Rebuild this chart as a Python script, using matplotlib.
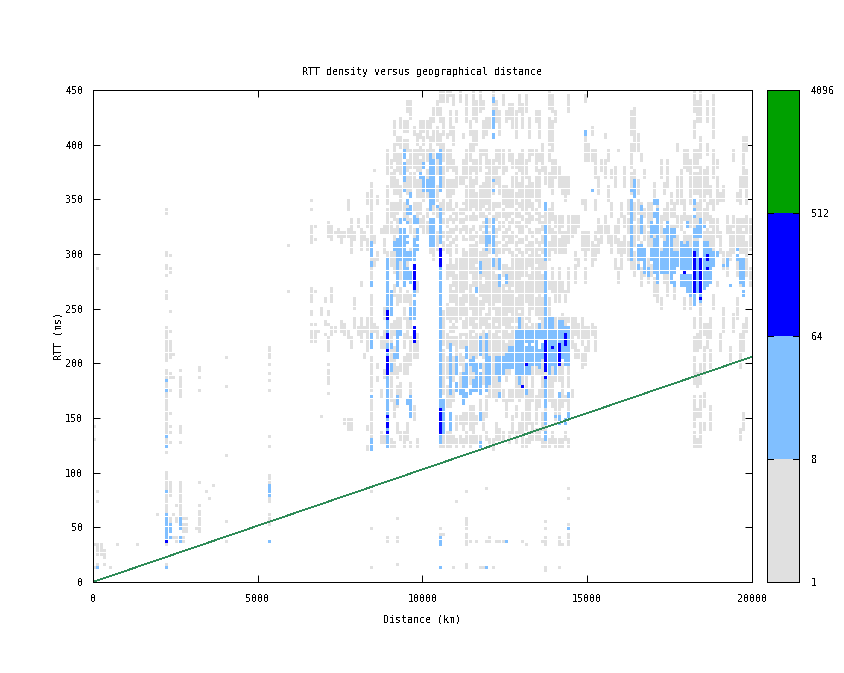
import matplotlib
matplotlib.use("Agg")
import matplotlib.pyplot as plt
from matplotlib.collections import PolyCollection
from matplotlib.patches import Rectangle

# Density bands. Keys: distance bin (x100 km). Values: RTT ranges in ms.
gray_cells = {
0:[(14,14),(35,35),(130,130),(142,142)],1:[(14,17),(24,30),(35,35),(74,74),(82,82),(286,286)],2:[(24,30),(33,35)],3:[(15,15),(22,27)],5:[(14,14)],7:[(34,34)],13:[(34,34)],
19:[(61,61)],
22:[(15,15),(35,35),(61,99),(118,118),(124,150),(152,194),(201,233),(258,264),(279,281),(285,290),(297,302),(336,339)],
23:[(47,57),(78,92),(128,128),(137,137),(142,142),(154,154),(174,174),(188,191),(206,221),(228,228),(247,247),(284,286),(297,297)],
24:[(40,40),(60,62),(188,188),(208,208)],25:[(38,41),(70,70),(55,58)],26:[(36,41),(58,92),(128,128),(137,142),(168,177),(180,188),(194,194)],27:[(38,41),(47,52),(58,58)],28:[(47,52),(58,58)],
31:[(49,49)],32:[(45,52),(55,64),(70,70),(91,91),(175,175),(187,187),(192,197)],34:[(82,82)],35:[(76,76)],36:[(88,88)],
40:[(37,37),(55,55),(116,116),(179,179),(205,205)],
53:[(52,60),(72,78),(90,96),(124,124),(133,133),(175,175),(185,185),(191,191),(200,200),(204,215)],
59:[(265,265),(307,307)],
66:[(221,228),(235,235),(243,247),(255,268),(310,325),(340,340),(349,349)],67:[(221,228),(235,235),(265,265),(313,313),(325,325)],68:[(228,228)],69:[(151,151),(243,249)],
70:[(226,226),(235,238),(255,258)],71:[(172,172),(180,194),(200,200),(211,224),(235,235),(243,247),(316,325),(328,328)],72:[(226,232),(255,268),(313,325)],73:[(228,232),(320,320)],74:[(316,322)],
75:[(230,238),(310,318)],76:[(225,235),(316,320),(145,148)],77:[(140,148),(222,230),(316,322),(340,350)],78:[(140,148),(215,222),(300,316),(320,330)],79:[(232,240),(250,258),(312,320)],80:[(225,232),(325,332)],
81:[(220,240),(270,273),(305,322)],82:[(205,208),(228,232),(313,320)],83:[(120,125),(138,142),(210,240),(305,312),(325,335),(345,355)],
84:[(124,135),(140,165),(175,205),(230,262),(275,290),(294,300),(312,330),(334,345),(350,365)],
85:[(228,235),(288,294),(310,316),(376,376)],86:[(195,200),(185,188),(222,232),(295,300),(345,352)],87:[(128,135),(170,175),(215,222),(318,322)],
88:[(128,132),(188,194),(215,230),(240,250),(300,312),(318,325)],
89:[(124,230),(240,300),(320,340),(345,362),(372,395)],90:[(125,130),(165,190),(200,235),(290,300),(320,328),(335,345),(360,372),(378,385)],
91:[(125,128),(150,165),(190,215),(226,238),(262,270),(282,300),(310,322),(332,345),(355,375),(385,400),(410,420)],92:[(135,145),(160,178),(186,195),(205,225),(232,240),(254,262),(276,290),(320,332),(338,345),(355,368),(375,392),(400,405)],
93:[(130,135),(170,182),(192,200),(225,240),(255,268),(278,296),(340,346),(350,362),(372,392),(398,405),(415,425)],94:[(125,135),(190,205),(214,225),(240,250),(256,262),(335,345),(360,366),(396,404),(412,420)],
95:[(130,145),(190,208),(222,240),(255,265),(288,300),(332,336),(342,346),(356,370),(376,385),(395,402),(412,422),(430,440)],96:[(125,128),(150,162),(172,180),(200,222),(232,240),(252,262),(300,305),(318,332),(356,372),(380,395),(425,438)],
97:[(148,160),(205,225),(316,322),(340,345),(360,372),(378,395),(410,416)],98:[(125,130),(205,225),(265,275),(332,345),(352,368),(376,395),(400,410)],
99:[(325,332),(338,345),(352,366),(372,386),(392,398),(405,420)],100:[(320,335),(350,355),(360,370),(384,395),(400,405),(412,420)],101:[(320,328),(334,340),(352,356),(370,376),(384,395),(405,420)],102:[(300,307),(345,345),(392,405),(415,425)],
103:[(295,307),(336,345),(352,356),(373,395),(402,412),(420,432)],104:[(305,320),(335,342),(348,362),(372,386),(400,415),(428,440)],105:[(125,135),(240,290),(342,345),(396,408),(420,432),(440,450)],
106:[(42,42),(125,132),(140,165),(172,210),(218,240),(243,248),(305,320),(328,350),(360,378),(386,400),(410,425),(438,450)],107:[(125,135),(160,178),(186,205),(214,230),(240,252),(276,290),(302,318),(324,332),(338,345),(352,368),(376,395),(405,410),(440,450)],
108:[(125,135),(160,170),(202,222),(230,240),(244,250),(255,272),(280,300),(305,322),(330,345),(350,366),(380,395),(410,430),(445,450)],109:[(128,132),(165,176),(184,205),(216,235),(242,250),(255,265),(270,275),(278,290),(310,322),(328,340),(355,368),(375,385),(400,415),(435,445)],
110:[(125,130),(140,150),(205,222),(232,240),(245,255),(260,280),(285,295),(300,315),(322,345),(360,380),(420,430)],111:[(128,132),(145,150),(175,190),(200,230),(240,258),(265,295),(320,340),(365,370),(440,450)],
112:[(125,130),(140,155),(192,205),(215,225),(232,238),(245,258),(262,285),(290,305),(312,330),(336,345),(365,385),(405,410)],113:[(12,15),(35,44),(49,52),(55,58),(83,83),(128,135),(145,155),(216,240),(242,250),(255,262),(268,285),(288,300),(312,325),(332,345),(350,360),(370,395),(420,445)],
114:[(38,38),(125,132),(140,160),(180,196),(205,240),(250,272),(282,300),(305,322),(330,345),(346,352),(355,362),(365,378),(385,400),(410,420)],115:[(128,135),(140,160),(186,192),(206,240),(245,262),(270,300),(305,325),(332,345),(350,368),(375,385),(395,412),(425,450)],
116:[(37,37),(128,132),(145,150),(206,225),(232,240),(242,258),(268,285),(292,300),(305,320),(330,345),(350,356),(365,385),(400,412),(420,440)],117:[(13,13),(125,132),(150,165),(226,240),(245,255),(262,280),(285,290),(294,300),(310,325),(335,345),(350,362),(375,395),(430,450)],
118:[(14,14),(140,155),(180,200),(206,240),(250,272),(280,298),(300,318),(326,345),(350,365),(390,395),(405,422),(432,440)],119:[(38,38),(86,86),(130,135),(150,170),(226,245),(255,300),(332,345),(350,372),(380,395),(410,425)],
120:[(37,40),(125,130),(170,180),(206,240),(245,255),(260,275),(278,296),(300,308),(318,345),(350,360),(365,385),(415,425)],121:[(14,14),(120,130),(170,240),(250,288),(332,345),(355,385),(432,438),(445,450)],
122:[(38,38),(130,145),(165,188),(206,240),(242,250),(255,280),(286,300),(305,325),(332,345),(365,378),(385,395),(420,440)],123:[(38,38),(130,140),(175,184),(206,240),(244,250),(255,270),(300,310),(322,345),(355,370),(378,395),(410,430)],
124:[(38,38),(130,135),(165,175),(206,240),(245,255),(260,272),(280,290),(300,318),(324,340),(345,360),(372,395),(435,445)],125:[(150,165),(185,194),(210,240),(245,265),(270,274),(282,290),(305,322),(330,345),(350,362),(375,380),(420,430)],
126:[(128,135),(165,175),(190,194),(216,240),(248,270),(275,285),(300,315),(322,345),(350,358),(385,395),(425,435)],127:[(135,150),(165,175),(216,240),(245,252),(255,265),(270,300),(310,320),(328,345),(350,370),(380,390),(415,435)],
128:[(128,135),(150,160),(170,188),(230,240),(245,260),(265,272),(275,298),(305,315),(324,340),(345,355),(360,372),(378,385),(405,430)],129:[(135,145),(165,180),(240,245),(250,285),(290,296),(300,312),(320,345),(352,365),(375,390),(430,445)],
130:[(37,37),(125,135),(140,155),(170,188),(230,240),(245,255),(260,275),(280,300),(310,325),(332,345),(350,362),(365,395),(415,435)],131:[(35,35),(125,130),(140,170),(176,188),(230,240),(255,275),(280,295),(300,316),(324,345),(348,360),(370,385),(430,445)],
132:[(128,135),(145,175),(230,240),(245,255),(260,280),(290,310),(318,345),(350,370),(385,395),(405,425)],133:[(130,145),(165,195),(230,235),(250,285),(290,300),(305,320),(330,345),(352,365),(390,395)],
134:[(130,140),(145,170),(190,196),(230,235),(245,258),(265,285),(292,305),(310,322),(330,340),(350,370),(375,395),(420,430)],135:[(130,140),(160,175),(190,194),(235,240),(245,285),(290,310),(318,345),(350,375),(385,390),(405,430)],
136:[(38,38),(125,130),(140,155),(170,202),(232,240),(245,260),(265,280),(285,296),(300,315),(322,335),(375,400)],137:[(10,13),(35,41),(49,49),(55,55),(125,128),(136,144),(156,160),(185,194),(240,244),(282,294),(326,340),(365,380)],
138:[(125,130),(165,188),(240,260),(268,275),(295,310),(318,340),(360,372),(385,395),(400,425),(432,450)],139:[(128,135),(160,196),(265,285),(305,322),(330,345),(355,385),(395,420),(430,445)],
140:[(125,130),(145,165),(185,188),(232,240),(255,275),(300,318),(326,335),(370,385),(420,430)],141:[(12,14),(35,41),(125,130),(155,168),(185,198),(238,240),(255,285),(300,312),(320,335),(360,380)],
142:[(35,35),(125,130),(160,200),(238,245),(265,275),(300,318),(324,335),(355,370)],143:[(130,135),(165,170),(232,240),(255,265),(300,320),(350,370)],
144:[(35,42),(49,52),(77,77),(86,86),(125,130),(156,168),(178,198),(238,240),(265,285),(310,335),(355,370),(430,445)],145:[(170,175),(215,240),(315,335)],
146:[(205,218),(226,240),(275,290),(296,300),(320,335)],147:[(205,212),(222,235),(290,295),(325,335)],148:[(195,208),(218,240),(305,320),(345,350)],149:[(200,215),(224,232),(275,286),(294,320),(340,350),(385,405),(440,445)],
150:[(210,232),(305,320),(385,400)],151:[(225,235),(290,310),(385,395),(410,415)],152:[(210,232),(295,308),(314,320),(340,350),(370,395)],153:[(300,312),(320,330),(355,370)],
154:[(310,325),(375,385)],155:[(320,335),(370,385),(405,410)],156:[(310,325),(350,360),(385,395)],157:[(300,315),(335,345),(370,375)],
158:[(285,295),(310,325),(360,380)],159:[(275,285),(300,312),(318,330),(395,395)],160:[(285,310),(335,345)],161:[(300,316),(324,335),(360,380)],162:[(295,310),(320,330),(338,350)],
163:[(285,295),(303,320),(330,345),(355,372),(380,400),(410,430)],164:[(280,300),(308,325),(332,345),(365,375),(395,432)],165:[(285,300),(312,330),(338,350),(355,368),(395,410)],166:[(270,285),(295,310),(322,345),(385,392)],167:[(280,300),(312,325),(335,340),(370,375)],
168:[(275,295),(306,320),(325,330),(335,345)],169:[(280,290),(298,315),(322,335),(330,345)],170:[(262,278),(290,300),(310,325),(350,365)],171:[(255,275),(300,325),(335,350)],172:[(250,260),(285,305),(315,335),(370,385)],173:[(275,285),(296,315),(330,340),(355,365)],
174:[(262,280),(300,320),(326,345),(360,385)],175:[(280,295),(312,325),(334,340),(345,355)],176:[(260,270),(285,295),(305,325),(335,345)],177:[(300,315),(325,335),(345,370),(395,400)],178:[(295,310),(322,335),(345,375)],
179:[(250,260),(300,320),(330,350),(380,395)],180:[(300,315),(325,335),(375,395)],181:[(250,260),(295,315),(325,335),(345,385)],182:[(125,135),(142,170),(180,205),(212,222),(232,240),(255,275),(300,330),(340,345),(355,372),(380,395),(405,420),(430,450)],
183:[(125,130),(150,158),(178,190),(210,225),(300,318),(326,345),(355,372),(380,395),(420,440)],184:[(125,145),(152,170),(182,200),(215,240),(245,258),(320,345),(350,380),(388,405),(420,450)],185:[(140,146),(160,172),(190,215),(225,235),(295,318),(326,340),(350,375)],186:[(215,235),(300,322),(332,345),(355,380),(390,400),(420,440)],
187:[(140,160),(195,212),(222,240),(300,318),(326,335),(345,360)],188:[(250,262),(300,330),(340,350),(370,395),(405,445)],189:[(270,275),(315,330),(345,370),(380,385)],
190:[(210,225),(300,320),(350,355)],191:[(230,250),(285,300),(350,360)],192:[(280,300),(320,335)],193:[(200,215),(295,325)],194:[(230,245),(300,318),(326,335),(385,395)],
195:[(240,258),(280,295),(306,330),(350,355)],196:[(130,140),(195,225),(270,285),(300,330),(345,370)],197:[(140,155),(210,235),(300,318),(326,330),(360,405)],198:[(230,240),(280,310),(318,335),(345,375),(395,405)],199:[(270,285),(305,330)],
84.5:[(14,14),(49,49),(83,83)],89.5:[(37,41)],92.5:[(15,15),(38,40),(58,58)],105.5:[(44,44),(49,49)],109.5:[(13,13)],110.5:[(74,74)],
}
# Empty cells inside the dense gray zone, RTT in ms by distance bin
gray_gaps = {
106:[312,333],107:[310,336,228],108:[312,338,234],109:[316,335,226],110:[309,327,340,236],111:[325,333,210,228],112:[318,342,222],113:[316,338,229],114:[311,336,232],
115:[309,320,340,226],116:[313,337,237],117:[318,330,229],118:[306,330,340,233],119:[336,342,230],120:[322,333,238],121:[336,228],122:[312,326,341,235],123:[307,330,340,227],
124:[310,331,233],125:[314,339,220],126:[308,330,340,229],127:[333,341,235],128:[312,332,236],129:[306,330,340],130:[315,338],131:[310,333,237],132:[300,326,340,234],133:[313,338],
134:[315,334],135:[300,325,340,238],136:[306,330],
}
light_cells = {
1:[(13,14)],22:[(13,13),(40,60),(82,82),(124,124),(133,133),(175,175),(185,185)],23:[(39,40),(47,53)],26:[(36,41),(48,57)],53:[(37,37),(80,87)],
84:[(122,131),(170,170),(213,218),(220,227),(272,275),(290,293),(299,300),(303,311)],
89:[(125,136),(138,150),(155,166),(168,173),(175,197),(200,218),(222,230),(232,238),(244,268),(272,280),(281,296)],
90:[(192,198),(215,218),(244,247),(250,264)],91:[(205,208),(303,310)],92:[(162,168),(205,228),(272,278),(281,293),(295,302),(303,313)],
93:[(225,228),(295,302),(303,314),(316,323),(327,330)],94:[(272,278),(281,293),(295,302),(303,313),(316,323),(331,331),(358,358),(366,375),(378,381),(389,389),(392,395)],
95:[(162,165),(276,279),(284,287),(295,302),(311,311),(317,317),(328,328),(337,340),(345,348)],96:[(150,170),(240,250),(275,282),(295,302),(336,343),(351,355)],
97:[(220,232),(240,250),(252,256),(261,267),(295,302),(303,314),(327,333)],98:[(303,308),(313,313),(317,323),(327,330)],
99:[(370,372)],100:[(357,364),(366,371),(380,383)],101:[(357,368)],
102:[(308,314),(316,330),(339,339),(343,343),(346,355),(357,365),(366,377),(377,386),(387,392)],103:[(308,314),(316,330),(346,355),(357,365),(366,377),(377,386)],104:[(343,343),(387,390)],
105:[(35,41),(14,14),(127,134),(135,145),(148,152),(160,230),(232,240),(241,252),(253,259),(262,288),(311,334),(336,339),(358,380),(383,395)],106:[(135,150),(151,153),(158,165)],
108:[(140,155),(172,200),(202,218)],110:[(175,180),(190,200),(202,204)],111:[(172,176)],112:[(163,170),(172,177),(178,190)],113:[(190,200),(205,215),(178,190),(168,172)],
114:[(198,202),(172,175)],115:[(175,185),(193,204)],116:[(175,200),(188,190),(266,268)],117:[(172,178),(124,128),(147,154),(178,190),(196,200),(208,222),(283,293)],
119:[(13,13),(175,200),(202,218),(220,225),(303,330)],120:[(182,193),(194,204),(310,316)],121:[(290,295),(300,312),(316,330),(358,358),(368,368),(406,408),(416,430),(440,441)],
122:[(190,204)],123:[(185,204),(170,172),(272,280),(285,295)],124:[(190,204)],125:[(195,204),(205,208),(275,280),(36,37)],
126:[(195,205),(208,215)],127:[(195,215)],128:[(190,205),(208,218),(220,229)],129:[(182,210),(208,218),(220,240)],
130:[(190,218),(220,230)],131:[(172,175),(190,215),(220,230)],132:[(190,220),(220,230)],133:[(198,215),(220,230)],134:[(198,218),(220,230)],135:[(195,210),(222,235)],136:[(205,218),(222,230)],
137:[(130,135),(145,155),(160,185),(195,225),(228,240),(245,272),(275,282),(295,305),(306,325),(340,345)],138:[(190,240)],139:[(198,240)],140:[(190,230),(150,152)],141:[(150,152),(170,172),(200,238),(146,148)],142:[(205,238)],143:[(200,232),(145,148)],144:[(48,50),(200,232),(170,172),(150,155)],
149:[(409,411)],151:[(358,358)],
163:[(295,303),(305,311),(314,348),(358,358)],164:[(352,358),(362,366)],165:[(295,303),(305,307),(285,290)],166:[(295,303),(305,308),(318,334),(340,342)],
167:[(283,303)],168:[(280,285)],169:[(295,299),(302,305),(317,328)],170:[(283,303),(305,313),(318,324),(333,336),(347,350)],171:[(275,281),(283,303),(305,313),(316,333),(337,340),(345,348)],
172:[(283,290),(292,300)],173:[(283,303),(305,311),(318,322)],174:[(283,303),(305,323),(325,327)],175:[(275,281),(283,303),(305,322)],176:[(283,290),(292,302),(272,275),(317,322)],
177:[(290,302)],178:[(270,280),(286,303),(305,311)],179:[(270,280),(286,303),(305,308)],180:[(265,280),(285,303),(305,311),(326,328)],
181:[(262,280),(285,303)],182:[(252,264),(305,311),(315,323),(339,341),(333,335),(345,348)],183:[(265,283),(285,303),(305,311),(317,323),(326,326)],
184:[(255,262),(317,324),(326,332)],185:[(268,272),(273,281),(283,303),(305,311),(324,326)],186:[(270,281),(283,303),(305,311)],187:[(283,303),(275,280)],188:[(295,302),(290,293)],189:[(299,302)],
191:[(288,288)],192:[(292,295),(288,290)],193:[(272,272)],195:[(296,299),(303,305)],196:[(273,281),(283,296)],197:[(263,265),(270,281),(283,296)],
}
blue_cells = {
22:[(37,37)],89:[(135,137),(141,144),(152,152),(190,192),(196,197),(200,205),(212,212),(222,225),(227,227),(240,247)],
97:[(220,233),(269,290)],
105:[(135,141),(146,153),(157,157),(290,293),(293,302),(303,305)],130:[(179,179)],131:[(200,200)],
137:[(187,187),(192,197),(200,209),(208,216),(220,220)],139:[(215,215)],141:[(200,202),(205,207),(208,216)],143:[(216,218),(220,225)],
179:[(282,282)],182:[(264,272),(273,281),(282,302)],184:[(259,259),(264,272),(273,281),(282,296)],186:[(285,285),(295,299)],
}
level_values = [3, 20, 100]            # counts representing each band
band_edges = [1, 8, 64, 512, 4096]
band_colors = ["#e0e0e0", "#80bfff", "#0000ff", "#00a000"]
line_km = [0, 20000]
line_rtt = [0, 206]
x_ticks = [0, 5000, 10000, 15000, 20000]
y_ticks = [0, 50, 100, 150, 200, 250, 300, 350, 400, 450]

plt.rcParams.update({"font.family": "DejaVu Sans Mono", "font.size": 7.2, "text.antialiased": False,
                     "axes.linewidth": 0.72, "axes.titlesize": 7.2})
W, H = 845, 673
fig = plt.figure(figsize=(W/100, H/100), dpi=100)
L, R, T, B = 93, 752, 90, 582
ax = fig.add_axes([L/W, 1-B/H, (R-L)/W, (B-T)/H])
BINX, BINY = 100, 3
grid = {}
for layer, val in zip((gray_cells, light_cells, blue_cells), level_values):
    for col, runs in layer.items():
        for lo, hi in runs:
            for r in range(int(lo//BINY), int(hi//BINY)+1):
                grid[(int(col), r)] = val
for col, rtts in gray_gaps.items():
    for v in rtts:
        if grid.get((col, int(v//BINY))) == level_values[0]:
            del grid[(col, int(v//BINY))]
fx, fy = 0.91, 0.91
for val, color in zip(level_values, band_colors):
    cells = [k for k, v in grid.items() if v == val]
    polys = [[(c*BINX, r*BINY), ((c+fx)*BINX, r*BINY), ((c+fx)*BINX, (r+fy)*BINY), (c*BINX, (r+fy)*BINY)] for c, r in cells]
    ax.add_collection(PolyCollection(polys, facecolors=color, edgecolors="none", antialiaseds=False, zorder=2))
ax.plot(line_km, line_rtt, color="#2e8b57", lw=0.5, antialiased=False, zorder=3)
ax.set_xlim(0, 20000); ax.set_ylim(0, 450)
ax.set_xticks(x_ticks); ax.set_yticks(y_ticks)
ax.tick_params(direction="in", length=5, width=0.72, top=True, right=True)
ax.tick_params(axis="x", pad=8.5)
ax.tick_params(axis="y", pad=7)
ax.set_xlabel("Distance (km)", labelpad=8)
ax.set_ylabel("RTT (ms)", labelpad=1)
ax.set_title("RTT density versus geographical distance", pad=11)
for s in ax.spines.values():
    s.set_zorder(5)

cax = fig.add_axes([767/W, 1-B/H, 32/W, (B-T)/H])
n = len(band_edges)-1
for i in range(n):
    cax.add_patch(Rectangle((0, i), 1, 1, facecolor=band_colors[i], edgecolor="none"))
cax.set_xlim(0, 1); cax.set_ylim(0, n)
cax.set_xticks([])
cax.set_yticks(range(n+1)); cax.set_yticklabels([str(v) for v in band_edges])
cax.yaxis.tick_right()
cax.tick_params(axis="y", direction="in", length=0, pad=8.6)
for i in range(1, n):
    cax.plot([0, 0.2], [i, i], color="black", lw=0.72, antialiased=False)
    cax.plot([0.8, 1], [i, i], color="black", lw=0.72, antialiased=False)
fig.savefig("out.png", dpi=100)
